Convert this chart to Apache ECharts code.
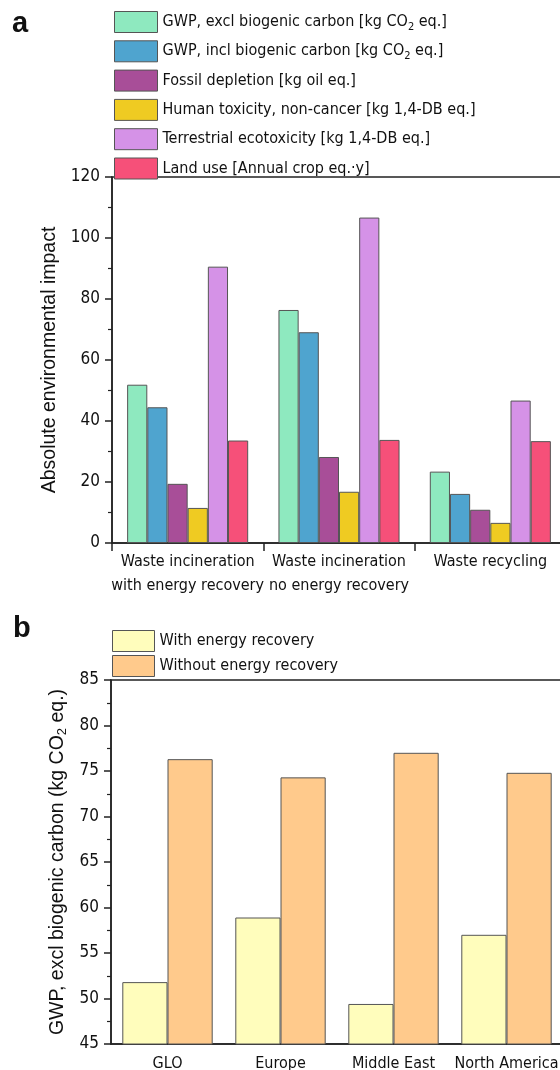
<!DOCTYPE html>
<html>
<head>
<meta charset="utf-8">
<script src="https://cdn.jsdelivr.net/npm/echarts@6/dist/echarts.min.js"></script>
<style>
html,body{margin:0;padding:0;background:#fff;}
#chart{width:560px;height:1070px;}
</style>
</head>
<body>
<div id="chart"></div>
<script>
// ---- Data ----
var categoriesA = ['Waste incineration\nwith energy recovery', 'Waste incineration\nno energy recovery', 'Waste recycling'];
var seriesNamesA = [
  'GWP, excl biogenic carbon [kg CO2 eq.]',
  'GWP, incl biogenic carbon [kg CO2 eq.]',
  'Fossil depletion [kg oil eq.]',
  'Human toxicity, non-cancer [kg 1,4-DB eq.]',
  'Terrestrial ecotoxicity [kg 1,4-DB eq.]',
  'Land use [Annual crop eq.\u00b7y]'
];
var gwpExcl = [51.9, 76.4, 23.4];
var gwpIncl = [44.5, 69.1, 16.1];
var fossilDepletion = [19.4, 28.2, 10.9];
var humanToxicity = [11.5, 16.8, 6.6];
var terrestrialEcotox = [90.6, 106.7, 46.7];
var landUse = [33.6, 33.8, 33.4];
var yTicksA = [0, 20, 40, 60, 80, 100, 120];

var categoriesB = ['GLO', 'Europe', 'Middle East', 'North America'];
var seriesNamesB = ['With energy recovery', 'Without energy recovery'];
var withRecovery = [51.8, 58.9, 49.4, 57.0];
var withoutRecovery = [76.3, 74.3, 77.0, 74.8];
var yTicksB = [45, 50, 55, 60, 65, 70, 75, 80, 85];

// ---- Styles ----
var NARROW = "'Liberation Sans Narrow', 'Arial Narrow', 'DejaVu Sans Condensed', 'Liberation Sans', Arial, sans-serif";
var REG = "'Liberation Sans', Arial, sans-serif";
var TXT = 16;
var colorsA = ['#8ee9bf', '#4fa4cf', '#a84e98', '#efcb22', '#d592e7', '#f65079'];
var colorsB = ['#fffdbc', '#ffca8c'];
var dataA = [gwpExcl, gwpIncl, fossilDepletion, humanToxicity, terrestrialEcotox, landUse];
var dataB = [withRecovery, withoutRecovery];

function subFmt(name) {
  var parts = name.split('CO2');
  if (parts.length === 1) return '{n|' + name + '}';
  return '{n|' + parts[0] + 'CO}{s|2}{n|' + parts[1] + '}';
}
var legendRich = {
  n: {fontFamily: NARROW, fontSize: TXT, color: '#111', lineHeight: 21, verticalAlign: 'middle'},
  s: {fontFamily: NARROW, fontSize: 11, color: '#111', lineHeight: 8, verticalAlign: 'bottom'}
};

var axisLineStyle = {color: '#222', width: 1.5};

var series = [];
dataA.forEach(function (d, i) {
  series.push({
    name: seriesNamesA[i], type: 'bar', xAxisIndex: 0, yAxisIndex: 0,
    data: d, barGap: '0%', barCategoryGap: '20%',
    itemStyle: {color: colorsA[i], borderColor: '#555', borderWidth: 1}
  });
});
dataB.forEach(function (d, i) {
  series.push({
    name: seriesNamesB[i], type: 'bar', xAxisIndex: 1, yAxisIndex: 1,
    data: d, barGap: '0%', barCategoryGap: '20%',
    itemStyle: {color: colorsB[i], borderColor: '#555', borderWidth: 1}
  });
});

var chart = echarts.init(document.getElementById('chart'), null, {renderer: 'canvas'});
chart.setOption({
  animation: false,
  backgroundColor: '#fff',
  graphic: [
    {type: 'text', left: 12, top: 9, style: {text: 'a', font: 'bold 29px ' + REG, fill: '#111'}},
    {type: 'text', left: 13, top: 614, style: {text: 'b', font: 'bold 29px ' + REG, fill: '#111'}}
  ],
  legend: [
    {
      data: seriesNamesA, orient: 'vertical', left: 114, top: 11,
      itemWidth: 43, itemHeight: 21, itemGap: 7.3, padding: 0,
      icon: 'rect', selectedMode: false,
      itemStyle: {borderColor: '#555', borderWidth: 1},
      formatter: subFmt,
      textStyle: {fontFamily: NARROW, fontSize: TXT, color: '#111', rich: legendRich}
    },
    {
      data: seriesNamesB, orient: 'vertical', left: 112, top: 630,
      itemWidth: 42, itemHeight: 21, itemGap: 3, padding: 0,
      icon: 'rect', selectedMode: false,
      itemStyle: {borderColor: '#555', borderWidth: 1},
      formatter: subFmt,
      textStyle: {fontFamily: NARROW, fontSize: TXT, color: '#111', rich: legendRich}
    }
  ],
  grid: [
    {left: 112, top: 177, width: 454, height: 366, show: true, borderColor: '#222', borderWidth: 1.5,
     backgroundColor: 'transparent', outerBoundsMode: 'none', containLabel: false},
    {left: 111, top: 680, width: 452, height: 364, show: true, borderColor: '#222', borderWidth: 1.5,
     backgroundColor: 'transparent', outerBoundsMode: 'none', containLabel: false}
  ],
  xAxis: [
    {
      type: 'category', gridIndex: 0, data: categoriesA,
      axisLine: {lineStyle: axisLineStyle},
      axisTick: {show: true, length: 8, lineStyle: axisLineStyle},
      axisLabel: {fontFamily: NARROW, fontSize: TXT, color: '#111', margin: 7, lineHeight: 24, interval: 0, hideOverlap: false}
    },
    {
      type: 'category', gridIndex: 1, data: categoriesB,
      axisLine: {lineStyle: axisLineStyle},
      axisTick: {show: false},
      axisLabel: {fontFamily: NARROW, fontSize: TXT, color: '#111', margin: 8, lineHeight: 24, interval: 0, hideOverlap: false}
    }
  ],
  yAxis: [
    {
      type: 'value', gridIndex: 0, min: yTicksA[0], max: yTicksA[yTicksA.length - 1], interval: 20,
      name: 'Absolute environmental impact', nameLocation: 'middle', nameRotate: 90, nameGap: 34,
      nameTextStyle: {fontFamily: REG, fontSize: 19.5, color: '#111'},
      axisLine: {show: true, lineStyle: axisLineStyle},
      axisTick: {show: true, length: 7, lineStyle: axisLineStyle},
      minorTick: {show: true, splitNumber: 2, length: 4, lineStyle: {color: '#222', width: 1.2}},
      splitLine: {show: false},
      axisLabel: {fontFamily: NARROW, fontSize: 17, color: '#111', margin: 12}
    },
    {
      type: 'value', gridIndex: 1, min: yTicksB[0], max: yTicksB[yTicksB.length - 1], interval: 5,
      name: '{n|GWP, excl biogenic carbon (kg CO}{s|2}{n| eq.)}', nameLocation: 'middle', nameRotate: 90, nameGap: 40,
      nameTextStyle: {
        fontFamily: REG, fontSize: 19.5, color: '#111',
        rich: {
          n: {fontFamily: REG, fontSize: 19.5, color: '#111', lineHeight: 22, verticalAlign: 'middle'},
          s: {fontFamily: REG, fontSize: 13, color: '#111', lineHeight: 9, verticalAlign: 'bottom'}
        }
      },
      axisLine: {show: true, lineStyle: axisLineStyle},
      axisTick: {show: true, length: 7, lineStyle: axisLineStyle},
      minorTick: {show: true, splitNumber: 2, length: 4, lineStyle: {color: '#222', width: 1.2}},
      splitLine: {show: false},
      axisLabel: {fontFamily: NARROW, fontSize: 17, color: '#111', margin: 12}
    }
  ],
  series: series
});
</script>
</body>
</html>
